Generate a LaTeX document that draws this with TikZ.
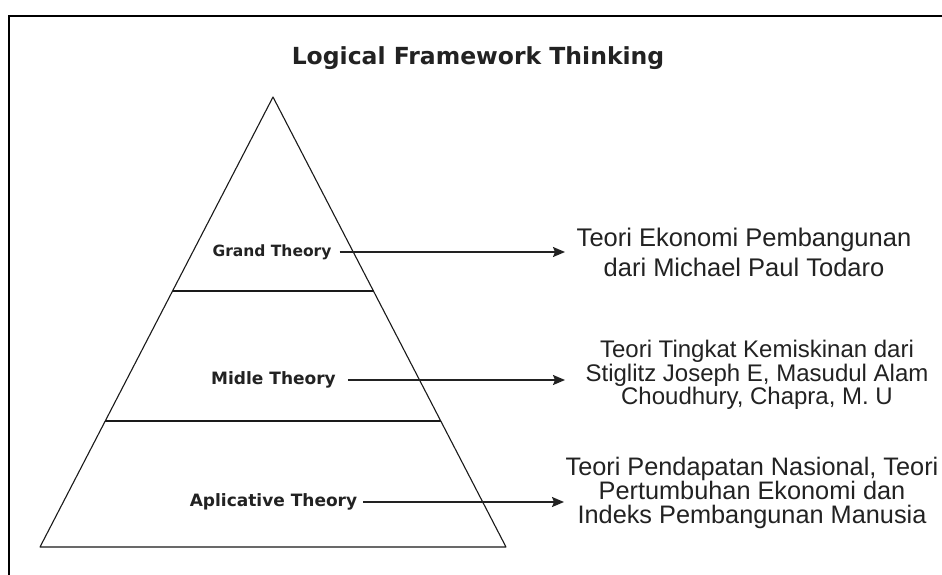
\documentclass[tikz,border=0pt]{standalone}
\usepackage{fontspec}
\setmainfont{Liberation Sans}
\newfontfamily\labelfont{DejaVu Sans}
\usetikzlibrary{arrows.meta}
\definecolor{textdark}{HTML}{222222}
\definecolor{linedark}{HTML}{1A1A1A}

\begin{document}
\begin{tikzpicture}[x=1pt, y=-1pt,
  title/.style={font=\labelfont\bfseries\fontsize{23.5}{26}\selectfont, text=textdark, inner sep=0pt},
  level/.style={font=\labelfont\bfseries\fontsize{17}{20}\selectfont, text=textdark, inner sep=0pt},
  theory/.style={align=center, text=textdark, inner sep=0pt},
  edge/.style={draw=linedark, line width=1.1pt},
  frame/.style={draw=black, line width=1.8pt},
  arrow/.style={-{Stealth[length=12pt,width=10pt,inset=2pt]}, line width=1.6pt, draw=textdark}
]
\clip (0,0) rectangle (942,574);
\fill[white] (0,0) rectangle (942,574);

% open frame, left and top only
\draw[frame] (9,580) -- (9,16) -- (950,16);

\node[title] (head) at (478,58) {Logical Framework Thinking};

% pyramid
\coordinate (apex) at (273,97);
\coordinate (baseL) at (40,547);
\coordinate (baseR) at (506,547);
\draw[edge, line join=round] (apex) -- (baseL) -- (baseR) -- cycle;
\draw[edge] (172.5,291) -- (373.5,291);
\draw[edge] (105.2,421) -- (440.8,421);

\node[level, font=\labelfont\bfseries\fontsize{15.5}{18}\selectfont] (grand) at (272,252) {Grand Theory};
\node[level] (midle) at (273.5,380) {Midle Theory};
\node[level] (aplic) at (273.5,502) {Aplicative Theory};

% theories on the right
\node[theory, font=\fontsize{25.5}{30}\selectfont] (todaro) at (744,252)
  {Teori Ekonomi Pembangunan\\dari Michael Paul Todaro};
\node[theory, font=\fontsize{24}{23.5}\selectfont] (kemiskinan) at (757,375)
  {Teori Tingkat Kemiskinan dari\\Stiglitz Joseph E, Masudul Alam\\Choudhury, Chapra, M. U};
\node[theory, font=\fontsize{25.3}{24}\selectfont] (pendapatan) at (752,493)
  {Teori Pendapatan Nasional, Teori\\Pertumbuhan Ekonomi dan\\Indeks Pembangunan Manusia};

\coordinate (toGrand) at (565,252);
\coordinate (toMidle) at (565,380);
\coordinate (toAplic) at (564,502);

\draw[arrow, shorten <=8pt] (grand) -- (toGrand);
\draw[arrow, shorten <=12pt] (midle) -- (toMidle);
\draw[arrow, shorten <=6pt] (aplic) -- (toAplic);
\end{tikzpicture}
\end{document}
